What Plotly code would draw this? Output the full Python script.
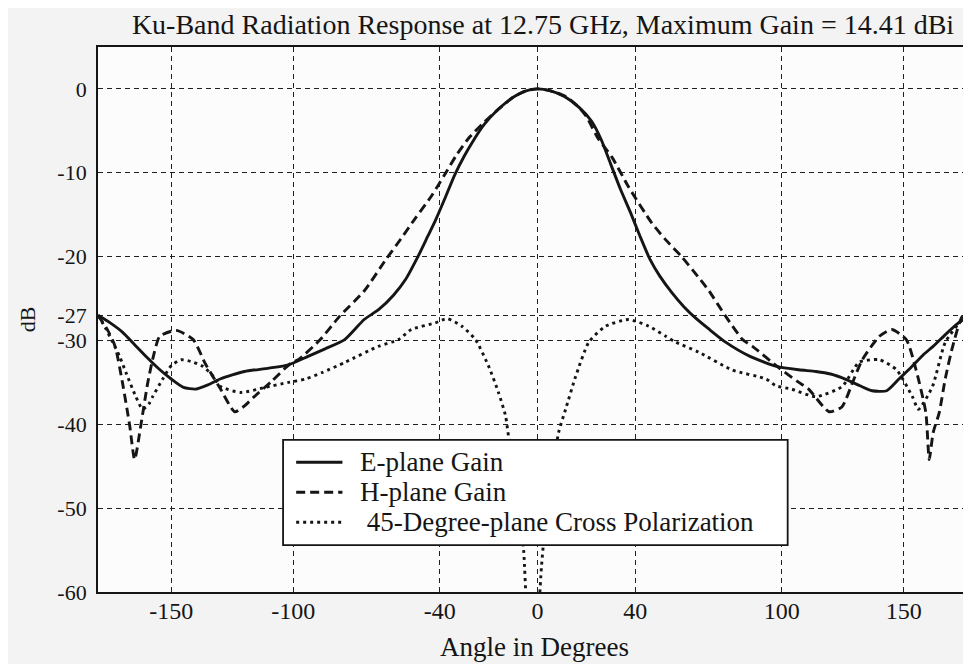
import plotly.graph_objects as go

# ---------------- data ----------------
e_angle = [-180, -175, -170, -165, -160, -155, -150, -145, -140, -135, -130, -125, -120,
           -110, -102, -94, -87, -79, -71, -65, -59, -54, -49, -45, -42, -38, -34, -30,
           -27, -22, -16, -10, -5, 0, 5, 11, 17, 22, 26, 30, 34, 38, 42, 46, 50, 55, 60, 65,
           70, 77, 87, 98, 107, 114, 120, 126, 132, 137, 143, 148, 153, 158, 162, 167,
           172, 177]
e_gain = [-27, -27.9, -29, -30.5, -32, -33.4, -34.6, -35.6, -35.8, -35.3, -34.6, -34.1, -33.7,
          -33.3, -32.9, -31.9, -31, -29.9, -27.5, -26.3, -24.6, -22.7, -20, -17.6, -15.8,
          -13.1, -10.3, -8, -6.5, -4.3, -2.4, -1.0, -0.25, 0, -0.2, -0.9, -2.2, -3.8, -6.0,
          -9.0, -12.0, -14.7, -17.6, -20.3, -22.3, -24.3, -26, -27.4, -28.6, -30.2, -31.9,
          -33.1, -33.5, -33.7, -34, -34.6, -35.4, -36, -36, -34.6, -33.2, -31.7, -30.7, -29.3,
          -28, -27]

h_angle = [-180, -176, -173, -170, -167, -165, -162.5, -159.6, -157, -154.7, -148, -141,
           -136, -130, -124, -120, -116, -109, -101, -98, -89, -81, -71, -62, -56, -50,
           -43.5, -38, -33, -28, -22, -16, -10, -5, 0, 5, 11.5, 17, 20, 25, 30.4, 37.3,
           46.8, 52.5, 59, 66, 70, 77, 84, 88, 99, 107, 111, 119.4, 124.7, 129, 133, 140,
           145, 151, 155, 159, 160.4, 162, 164.5, 167, 170, 174, 177]
h_gain = [-27, -28.8, -30.7, -35, -40.2, -44.2, -40.2, -35, -31.5, -29.5, -28.8, -29.9,
          -32.8, -35.7, -38.5, -37.8, -36.7, -34.9, -32.7, -32.3, -29.9, -27.1, -24.1, -20.3,
          -17.9, -15.4, -12.8, -10.2, -7.8, -5.8, -4.0, -2.4, -1.0, -0.25, 0, -0.2, -0.9,
          -2.2, -3.3, -6.0, -8.1, -11.7, -16, -18, -20, -22.5, -24, -27.1, -29.9, -30.7,
          -33.3, -35, -35.8, -38.5, -37.9, -35, -32.3, -29.5, -28.7, -29.9, -33.5, -38.6,
          -44.2, -41, -38.6, -34.5, -30.7, -27.1, -26.8]

x_angle = [-180, -177, -174, -171, -168.6, -164.5, -161.7, -159, -157.6, -153.5, -150, -146,
           -142, -137, -133, -129.7, -121.5, -111.6, -102, -95, -88, -78.8, -65.2, -57,
           -51.7, -41.9, -37, -31, -25.4, -20, -16, -13.1, -11.9, -9, -5.7, -4.5, -2, 0.5,
           1.6, 3.5, 8.6, 11.5, 15.6, 21, 27.9, 37.3, 45.5, 52.5, 56.6, 66, 79.6, 93.6,
           97.6, 104, 114, 124.7, 131.7, 140, 147, 153.5, 156, 161.7, 167, 174, 177]
x_gain = [-27, -28.5, -30.2, -32, -33.8, -36.7, -38.2, -37.5, -36.7, -34.6, -33, -32.3,
          -32.5, -33.1, -34.2, -35.5, -36.2, -35.6, -35, -34.6, -33.8, -32.6, -30.7, -29.9,
          -28.7, -27.9, -27.4, -28.3, -29.9, -33.1, -36.2, -39, -41.4, -46, -55, -62, -70,
          -62, -57, -51, -41, -38.2, -34.3, -30.2, -28.3, -27.5, -28.3, -29.5, -30.2, -31.4,
          -33.5, -34.6, -35.4, -35.8, -36.7, -35.5, -32.6, -32.3, -33.5, -36.7, -38.2,
          -35.5, -30.2, -27.5, -27]

x_ticks = [-150, -100, -40, 0, 40, 100, 150]
y_ticks = [0, -10, -20, -27, -30, -40, -50, -60]

title_text = "Ku-Band Radiation Response at 12.75 GHz, Maximum Gain = 14.41 dBi"
names = ["E-plane Gain", "H-plane Gain", " 45-Degree-plane Cross Polarization"]

# ---------------- figure ----------------
FONT = "Liberation Serif, Times New Roman, serif"
INK = "#151515"
DASHES = ["solid", "9px,5px", "3px,4px"]
series = [(e_angle, e_gain), (h_angle, h_gain), (x_angle, x_gain)]

fig = go.Figure()
for (xs, ys), nm, dsh in zip(series, names, DASHES):
    fig.add_trace(go.Scatter(x=xs, y=ys, mode="lines", name=nm, showlegend=False,
                             line=dict(color=INK, width=2.9, dash=dsh,
                                       shape="spline", smoothing=0.6)))

axis_common = dict(
    automargin=False,
    showline=True, linecolor=INK, linewidth=1.8, mirror=True,
    showgrid=True, gridcolor="#202020", gridwidth=1.4, griddash="5px,4px",
    zeroline=False, ticks="",
)
fig.update_xaxes(range=[-180, 177.5], tickvals=x_ticks, ticktext=[str(v) for v in x_ticks],
                 tickfont=dict(family=FONT, size=24, color=INK),
                 title=dict(text="Angle in Degrees", font=dict(family=FONT, size=27, color=INK),
                            standoff=14),
                 ticklabelstandoff=-4,
                 **axis_common)
fig.update_yaxes(range=[-60, 5], tickvals=y_ticks, ticktext=[str(v) for v in y_ticks],
                 tickfont=dict(family=FONT, size=22, color=INK),
                 title=dict(text="dB", font=dict(family=FONT, size=22, color=INK),
                            standoff=16),
                 ticklabelstandoff=5,
                 **axis_common)

# ---- legend box drawn in paper coordinates (matches the reference's boxed key) ----
box_x0, box_x1, box_y0, box_y1 = 0.212, 0.790, 0.086, 0.279
sym_x0, sym_x1 = 0.227, 0.280
row_y = [0.238, 0.183, 0.128]
fig.add_shape(type="rect", xref="paper", yref="paper", x0=box_x0, x1=box_x1,
              y0=box_y0, y1=box_y1, fillcolor="white", line=dict(color=INK, width=1.8),
              layer="above")
for nm, dsh, ry in zip(names, DASHES, row_y):
    fig.add_shape(type="line", xref="paper", yref="paper", x0=sym_x0, x1=sym_x1, y0=ry, y1=ry,
                  line=dict(color=INK, width=2.9, dash=dsh), layer="above")
    label = nm.replace(" ", "\u00a0", 1) if nm.startswith(" ") else nm
    fig.add_annotation(xref="paper", yref="paper", x=0.298, y=ry, xanchor="left",
                       yanchor="middle", text=label, showarrow=False,
                       font=dict(family=FONT, size=27, color=INK))

fig.update_layout(
    width=971, height=664,
    margin=dict(l=90, r=8, t=39, b=80),
    paper_bgcolor="#f3f3f3", plot_bgcolor="#fcfcfc",
    title=dict(text=title_text, x=0.551, xanchor="center", y=0.975, yanchor="middle",
               font=dict(family=FONT, size=28, color=INK)),
    showlegend=False,
)

fig.write_html("out.html")
